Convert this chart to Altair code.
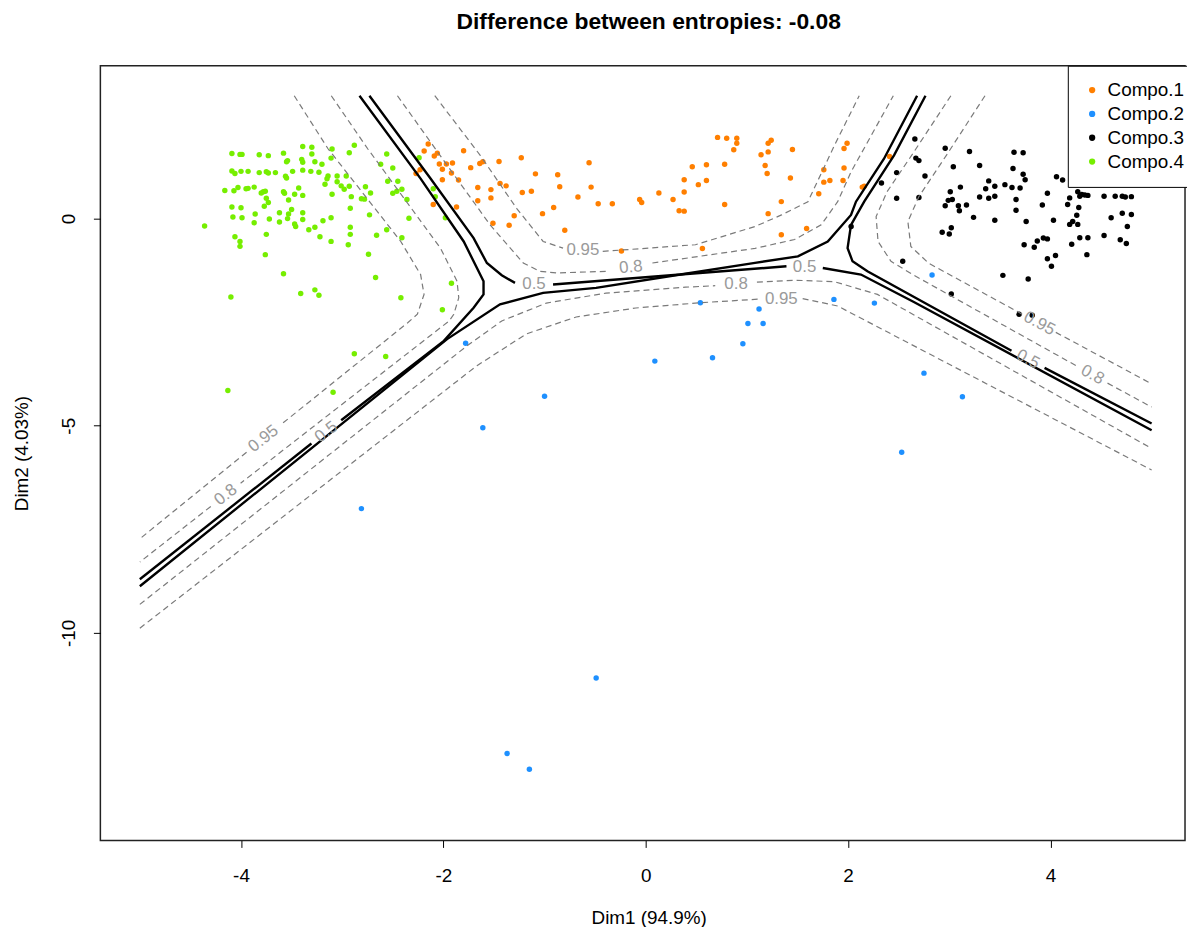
import altair as alt
import pandas as pd

TITLE = "Difference between entropies: -0.08"
X_TITLE = "Dim1 (94.9%)"
Y_TITLE = "Dim2 (4.03%)"
X_TICKS = [-4, -2, 0, 2, 4]
Y_TICKS = [-10, -5, 0]
X_DOMAIN = [-5.39, 5.33]
Y_DOMAIN = [-15.01, 3.69]
FONT = "Liberation Sans"

COMPONENTS = ["Compo.1", "Compo.2", "Compo.3", "Compo.4"]
COLORS = ["#FF7F00", "#1E90FF", "#000000", "#76EE00"]

# ---- points ----
compo1_x = [-2.15, -2.19, -2.09, -2.06, -1.80, -2.04, -1.97, -1.91, -2.01, -1.92, -2.23, -2.27, -2.01, -1.85,
            -1.64, -1.61, -1.73, -1.45, -1.23, -1.09, -0.87, -0.56, -1.44, -1.38, -1.66, -1.53, -1.22, -1.13,
            -0.54, -1.66, -1.53, -1.87, -2.10, -1.51, -1.35, -1.30, -1.02, -0.91, -0.85, -0.80, -0.67, -0.47,
            -0.33, -0.24, -0.06, -0.04, 0.13, 0.27, 0.33, 0.38, 0.38, 0.38, 0.46, 0.52, 0.60, 0.60, 0.71, 0.80,
            0.90, 0.90, 0.87, 0.78, 0.78, 1.14, 1.21, 1.21, 1.24, 1.18, 1.20, 1.45, 1.43, 1.34, 1.21, 1.34,
            1.59, 1.71, 1.76, 1.76, 1.82, 1.95, 1.96, 1.96, 1.99, 0.56, 2.16, 2.14, 2.41]
compo1_y = [1.80, 1.63, 1.51, 1.58, 1.64, 1.32, 1.32, 1.34, 1.19, 1.10, 1.18, 1.09, 0.94, 0.93,
            1.33, 1.37, 1.23, 1.38, 1.47, 1.08, 1.06, 1.35, 0.85, 0.79, 0.75, 0.70, 0.63, 0.66,
            0.76, 0.43, 0.50, 0.28, 0.34, -0.11, -0.16, 0.07, 0.12, 0.27, 0.77, -0.28, 0.52, 0.36,
            0.36, -0.78, 0.46, 0.39, 0.62, 0.46, 0.19, 0.18, 0.64, 0.94, 1.25, 0.82, 0.92, 1.30, 1.96, 1.94,
            1.94, 1.82, 1.66, 1.31, 0.34, 1.54, 1.61, 1.82, 1.89, 1.28, 1.09, 1.67, 0.98, 0.41, 0.12, -0.39,
            -0.24, 0.60, 1.18, 0.88, 0.92, 0.92, 1.22, 1.69, 1.82, -0.72, 0.78, 0.76, 1.50]

compo2_x = [2.83, 1.86, 2.26, 0.54, 1.12, 1.01, 1.16, 0.96, 0.66, 0.09, -1.78, -1.00, -1.61, 2.75, 3.13,
            2.53, -2.81, -0.49, -1.37, -1.15]
compo2_y = [-1.36, -1.95, -2.04, -2.03, -2.18, -2.53, -2.53, -3.02, -3.36, -3.44, -3.01, -4.29, -5.05, -3.73,
            -4.30, -5.64, -7.00, -11.09, -12.91, -13.29]

compo3_x = [2.66, 2.67, 2.70, 2.48, 2.76, 2.33, 2.48, 2.70, 2.03, 2.96, 3.20, 3.04, 3.30, 3.64, 3.73, 3.63,
            3.73, 3.75, 3.39, 3.45, 3.55, 3.11, 3.62, 3.70, 3.01, 3.36, 2.99, 3.03, 2.96, 3.09, 3.17, 3.30,
            3.39, 3.45, 3.66, 3.10, 3.24, 3.66, 3.45, 3.76, 3.92, 3.97, 4.06, 4.12, 4.21, 4.17, 4.19, 4.27,
            4.29, 4.31, 4.34, 4.37, 4.28, 4.26, 4.03, 4.22, 4.19, 4.27, 4.53, 4.64, 4.71, 4.74, 4.80, 4.60,
            4.71, 4.80, 4.76, 4.53, 4.69, 4.75, 4.29, 4.37, 4.21, 4.36, 3.93, 3.97, 3.87, 3.84, 3.74, 3.97,
            4.05, 4.01, 2.93, 3.00, 3.02, 2.54, 3.53, 3.78, 3.02, 3.69, 3.82]
compo3_y = [1.92, 1.46, 1.40, 1.11, 1.03, 0.86, 0.49, 0.51, -0.19, 1.70, 1.62, 1.25, 1.28, 1.60, 1.59, 1.21,
            1.07, 0.94, 0.91, 0.78, 0.82, 0.76, 0.75, 0.74, 0.65, 0.72, 0.44, 0.46, 0.31, 0.31, 0.33, 0.52,
            0.49, 0.54, 0.46, 0.19, 0.03, 0.20, -0.04, -0.07, 0.33, 0.61, 1.01, 0.93, 0.92, 0.34, 0.50, 0.65,
            0.54, 0.58, 0.57, 0.56, 0.27, 0.08, -0.04, -0.07, -0.14, -0.14, 0.54, 0.54, 0.54, 0.52, 0.53, 0.02,
            0.13, 0.10, -0.19, -0.41, -0.51, -0.60, -0.46, -0.46, -0.62, -0.87, -0.47, -0.49, -0.54, -0.69, -0.63, -0.97,
            -0.89, -1.15, -0.33, -0.37, -0.22, -1.03, -1.37, -1.46, -1.82, -2.31, -2.33]

compo4_x = [-4.09, -4.01, -3.99, -3.82, -3.73, -3.58, -3.54, -3.55, -3.39, -3.30, -3.30, -3.40, -3.39, -3.27,
            -3.20, -3.10, -2.88, -2.93, -3.11, -2.56, -2.62, -2.50,
            -4.09, -4.06, -4.00, -3.93, -3.82, -3.75, -3.73, -3.66, -3.56, -3.55, -3.49, -3.39, -3.31, -3.23,
            -3.14, -3.15, -3.05, -2.96, -2.55, -2.45,
            -4.16, -4.07, -4.03, -3.95, -3.93, -3.87, -3.80, -3.78, -3.76, -3.58, -3.57, -3.47, -3.43, -3.39,
            -3.53, -3.75, -3.73,
            -3.17, -3.10, -3.05, -3.01, -2.98, -2.93, -2.91, -2.81, -2.78, -2.77, -2.72, -2.50, -2.46, -2.41, -2.36,
            -4.09, -4.00, -3.77, -4.08, -3.99, -3.86, -3.87, -3.72, -3.62, -3.62, -3.53, -3.54, -3.50, -3.47,
            -3.46, -3.39, -3.39, -3.33, -3.27, -3.19, -3.11, -2.92, -2.73, -2.34, -2.92, -2.92, -2.56, -2.66, -2.41,
            -4.06, -4.01, -4.01, -3.75, -3.22, -3.11, -2.94, -2.74, -3.76, -4.36, -3.58, -2.67, -1.92, -3.41,
            -3.27, -3.23, -4.10, -2.42, -2.01, -2.24, -2.10, -2.08, -1.98, -4.13, -3.09, -2.88, -2.57]
compo4_y = [1.57, 1.55, 1.55, 1.54, 1.52, 1.58, 1.40, 1.37, 1.74, 1.72, 1.56, 1.43, 1.36, 1.37,
            1.31, 1.68, 1.77, 1.59, 1.46, 1.56, 1.31, 1.22,
            1.15, 1.09, 1.14, 1.14, 1.11, 1.13, 1.10, 1.11, 1.02, 0.98, 1.14, 1.17, 1.14, 1.12,
            1.03, 0.96, 1.03, 1.03, 0.90, 0.90,
            0.68, 0.67, 0.75, 0.72, 0.73, 0.76, 0.62, 0.65, 0.66, 0.65, 0.61, 0.59, 0.74, 0.56,
            0.45, 0.49, 0.39,
            0.83, 0.59, 0.89, 0.79, 0.71, 0.78, 0.53, 0.48, 0.47, 0.77, 0.62, 0.61, 0.66, 0.71, 0.46,
            0.28, 0.26, 0.30, 0.04, 0.02, 0.11, -0.10, -0.01, -0.08, 0.14, 0.11, 0.00, 0.22, -0.13,
            -0.19, -0.02, 0.14, -0.27, -0.21, -0.05, 0.02, 0.25, 0.09, 0.01, -0.21, -0.38, -0.27, -0.40, -0.46,
            -0.44, -0.55, -0.67, -0.38, -0.44, -0.55, -0.63, -0.86, -0.87, -0.18, -1.33, -1.42, -1.56, -1.81,
            -1.72, -1.85, -1.89, -1.91, -2.20, 1.47, 0.72, 0.53, 0.02, -4.15, -4.19, -3.26, -3.33]

# ---- contour lines of the posterior probabilities (None = gap for a label) ----
c1_050_x = [-2.731, -2.127, -1.701, -1.570, -1.423, -1.292, None, -0.916, 0.343, 1.080, 1.504, 1.799, 2.029, 2.078, 2.355, 2.682]
c1_050_y = [2.966, 0.966, -0.472, -1.072, -1.367, -1.552, None, -1.590, -1.350, -1.067, -0.911, -0.552, 0.089, 0.408, 1.446, 2.966]
c1_080_x = [-2.454, -1.963, -1.538, -1.210, -1.047, -0.883, -0.360, None, 0.066, 1.080, 1.472, 1.734, 1.897, 2.029, 2.447]
c1_080_y = [2.966, 1.288, -0.151, -1.072, -1.271, -1.312, -1.271, None, -1.072, -0.719, -0.504, -0.151, 0.408, 1.127, 2.966]
c1_095_x = [-2.085, -1.636, -1.276, -1.014, -0.817, None, -0.425, 0.491, 1.080, 1.342, 1.603, 1.865, 2.110]
c1_095_y = [2.966, 1.528, 0.247, -0.552, -0.712, None, -0.791, -0.631, -0.192, 0.089, 0.408, 1.767, 2.966]

c2_050_x = [-5.0, -1.963, -1.440, -1.014, -0.491, 0.343, 1.391, None, 1.750, 2.127, 2.650, 5.0]
c2_050_y = [-8.873, -2.909, -2.070, -1.791, -1.671, -1.350, -1.151, None, -1.192, -1.350, -2.014, -5.108]
c2_080_x = [-5.0, -1.766, -1.423, -0.981, -0.393, 0.393, 0.687, None, 1.099, 1.472, 1.865, 2.290, 5.0]
c2_080_y = [-9.312, -3.070, -2.470, -2.038, -1.799, -1.655, -1.619, None, -1.535, -1.487, -1.523, -1.830, -5.547]
c2_095_x = [-5.0, -1.668, -1.178, -0.687, -0.098, 0.540, 1.129, None, 1.551, 1.897, 5.0]
c2_095_y = [-9.887, -3.549, -2.782, -2.374, -2.158, -2.031, -1.942, None, -1.930, -2.110, -6.067]

c3_050_x = [2.765, 2.454, 2.159, 2.029, 1.995, 2.044, 2.191, 3.615, None, 3.942, 5.0]
c3_050_y = [2.966, 1.528, 0.408, -0.151, -0.712, -1.031, -1.271, -3.189, None, -3.604, -4.947]
c3_080_x = [3.016, 2.650, 2.385, 2.277, 2.296, 2.424, 2.650, 4.269, None, 4.564, 5.0]
c3_080_y = [2.966, 1.607, 0.647, 0.048, -0.552, -1.031, -1.367, -3.571, None, -3.971, -4.549]
c3_095_x = [3.353, 2.993, 2.699, 2.591, 2.620, 2.797, 3.729, None, 4.053, 5.0]
c3_095_y = [2.966, 1.607, 0.528, -0.072, -0.671, -1.079, -2.317, None, -2.746, -3.988]

c4_050_x = [-2.829, -2.225, -1.799, -1.603, -1.603, -1.701, -1.995, -3.010, None, -3.304, -5.0]
c4_050_y = [2.966, 0.966, -0.552, -1.511, -1.830, -2.151, -2.950, -4.868, None, -5.427, -8.705]
c4_080_x = [-3.108, -2.748, -2.388, -2.029, -1.865, -1.848, -1.897, -1.943, -4.004, None, -4.299, -5.0]
c4_080_y = [2.966, 1.686, 0.487, -0.712, -1.511, -1.911, -2.309, -2.470, -6.388, None, -6.947, -8.290]
c4_095_x = [-3.474, -3.140, -2.780, -2.421, -2.225, -2.191, -2.257, -2.355, -3.612, None, -3.945, -5.0]
c4_095_y = [2.966, 1.686, 0.568, -0.552, -1.350, -1.830, -2.309, -2.518, -4.985, None, -5.640, -7.729]

# contour labels
label_text = ["0.5", "0.8", "0.95", "0.5", "0.8", "0.95", "0.5", "0.8", "0.95", "0.5", "0.8", "0.95"]
label_x = [-1.104, -0.147, -0.621, 1.570, 0.893, 1.340, 3.778, 4.416, 3.891, -3.157, -4.151, -3.778]
label_y = [-1.571, -1.173, -0.753, -1.172, -1.578, -1.937, -3.398, -3.771, -2.532, -5.149, -6.667, -5.314]
label_angle = [0, 354, 0, 0, 0, 0, 28, 29, 28, 322, 322, 322]

# ---- tables ----
pts = []
for comp, xs_, ys_ in [("Compo.1", compo1_x, compo1_y), ("Compo.2", compo2_x, compo2_y),
                       ("Compo.3", compo3_x, compo3_y), ("Compo.4", compo4_x, compo4_y)]:
    for a, b in zip(xs_, ys_):
        pts.append({"x": a, "y": b, "comp": comp})
points_df = pd.DataFrame(pts)

contours = [("c1", "0.5", c1_050_x, c1_050_y), ("c1", "0.8", c1_080_x, c1_080_y), ("c1", "0.95", c1_095_x, c1_095_y),
            ("c2", "0.5", c2_050_x, c2_050_y), ("c2", "0.8", c2_080_x, c2_080_y), ("c2", "0.95", c2_095_x, c2_095_y),
            ("c3", "0.5", c3_050_x, c3_050_y), ("c3", "0.8", c3_080_x, c3_080_y), ("c3", "0.95", c3_095_x, c3_095_y),
            ("c4", "0.5", c4_050_x, c4_050_y), ("c4", "0.8", c4_080_x, c4_080_y), ("c4", "0.95", c4_095_x, c4_095_y)]
rows = []
for comp, level, cx, cy in contours:
    seg = 0
    for i, (a, b) in enumerate(zip(cx, cy)):
        if a is None:
            seg += 1
            continue
        rows.append({"x": a, "y": b, "level": level, "seg": f"{comp}-{level}-{seg}", "i": i})
lines_df = pd.DataFrame(rows)

labels_df = pd.DataFrame({"x": label_x, "y": label_y, "text": label_text, "angle": label_angle})

xs = alt.Scale(domain=X_DOMAIN, nice=False, zero=False)
ys = alt.Scale(domain=Y_DOMAIN, nice=False, zero=False)

x_axis = alt.Axis(values=X_TICKS, labelExpr="toString(datum.value)", title=X_TITLE, grid=False,
                  domain=False, tickSize=7, tickColor="black", labelFontSize=19, labelFont=FONT,
                  labelColor="black", labelPadding=19,
                  titleFont=FONT, titleFontSize=19, titleFontWeight="normal", titleColor="black",
                  titleX=552, titleY=78, titleBaseline="middle", titleAlign="center")
y_axis = alt.Axis(values=Y_TICKS, labelExpr="toString(datum.value)", title=Y_TITLE, grid=False,
                  domain=False, tickSize=7, tickColor="black", labelFontSize=19, labelFont=FONT,
                  labelColor="black", labelAngle=270,
                  labelAlign="center", labelBaseline="bottom", labelPadding=15,
                  titleFont=FONT, titleFontSize=19, titleFontWeight="normal", titleColor="black",
                  titleAngle=270, titleX=-79, titleY=390, titleBaseline="middle", titleAlign="center")

base_lines = alt.Chart(lines_df)
solid = base_lines.transform_filter(alt.datum.level == "0.5").mark_line(
    color="black", strokeWidth=2.4).encode(
    x=alt.X("x:Q", scale=xs, axis=x_axis),
    y=alt.Y("y:Q", scale=ys, axis=y_axis),
    detail="seg:N", order="i:Q")
dashed = base_lines.transform_filter(alt.datum.level != "0.5").mark_line(
    color="#7a7a7a", strokeWidth=1.2, strokeDash=[6, 4]).encode(
    x=alt.X("x:Q", scale=xs), y=alt.Y("y:Q", scale=ys),
    detail="seg:N", order="i:Q")
labels = alt.Chart(labels_df).mark_text(font=FONT, fontSize=17, color="#9a9a9a",
                                        align="center", baseline="middle").encode(
    x=alt.X("x:Q", scale=xs), y=alt.Y("y:Q", scale=ys),
    text="text:N", angle=alt.Angle("angle:Q", scale=None))
points = alt.Chart(points_df).mark_circle(size=30, opacity=1).encode(
    x=alt.X("x:Q", scale=xs), y=alt.Y("y:Q", scale=ys),
    color=alt.Color("comp:N", scale=alt.Scale(domain=COMPONENTS, range=COLORS),
                    legend=alt.Legend(title=None, orient="none", legendX=974, legendY=0,
                                      strokeColor="black", fillColor="white", padding=15,
                                      labelFontSize=19, labelFont=FONT, labelColor="black",
                                      symbolType="circle", symbolSize=40, symbolStrokeWidth=0,
                                      rowPadding=4, labelOffset=6, cornerRadius=0)))

chart = alt.layer(points, dashed, solid, labels).properties(
    width=1092, height=780,
    title=alt.TitleParams(TITLE, font=FONT, fontSize=23, fontWeight="bold", color="black",
                          anchor="middle", offset=31, dx=6),
    autosize=alt.AutoSizeParams(type="none"),
    padding={"left": 93, "top": 55, "right": 2, "bottom": 84},
    background="white",
).configure_view(stroke="#222222", strokeWidth=1.5)

chart.save("out.html", embed_options={"renderer": "svg", "actions": False})
